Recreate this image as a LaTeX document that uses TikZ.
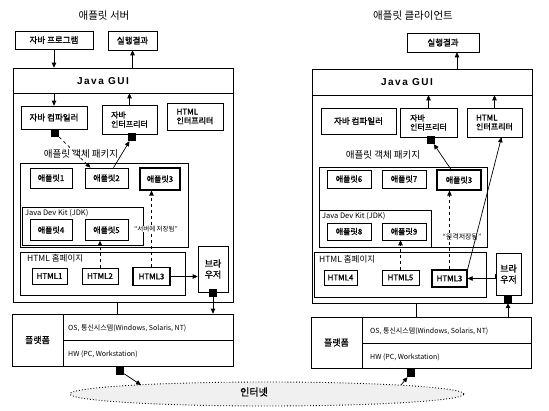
\documentclass[tikz,border=0pt]{standalone}
\usepackage{fontspec}
\setmainfont{Noto Sans CJK KR}[AutoFakeBold=1.2]
\newfontfamily\guifont[LetterSpace=15]{Liberation Sans}
\usetikzlibrary{arrows.meta,shapes.geometric}
\begin{document}
\begin{tikzpicture}[x=1pt,y=-1pt,
  box/.style={draw, line width=0.6pt, inner sep=1pt, align=center, font=\bfseries\fontsize{8.5}{10}\selectfont},
  sbox/.style={box, font=\bfseries\fontsize{8}{9}\selectfont},
  tbox/.style={box, line width=1.2pt, font=\bfseries\fontsize{8}{9}\selectfont},
  frame/.style={draw, line width=0.6pt, inner sep=0pt},
  sq/.style={fill=black, minimum size=8pt, inner sep=0pt},
  arr/.style={-{Triangle[length=5pt,width=4.5pt]}, line width=0.7pt},
  dar/.style={arr, dashed},
  ln/.style={line width=0.6pt},
  lbl/.style={inner sep=0pt},
  title/.style={lbl, font=\fontsize{10.5}{12}\selectfont},
  gui/.style={lbl, font=\guifont\bfseries\fontsize{10}{12}\selectfont},
  small/.style={lbl, font=\fontsize{7.5}{9}\selectfont},
  tiny/.style={lbl, font=\fontsize{6.5}{8}\selectfont}
]
\useasboundingbox (0,0) rectangle (549,411);

% ================= LEFT: applet server =================
\node[title] (title1) at (104,16) {애플릿 서버};
\node[box, minimum width=78pt, minimum height=18pt] (prog) at (54,40) {자바 프로그램};
\node[box, minimum width=49pt, minimum height=19pt] (res1) at (132.5,40.5) {실행결과};

\node[frame, minimum width=220pt, minimum height=234pt] (outer1) at (123,185) {};
\node[frame, minimum width=220pt, minimum height=25pt] (gui1) at (123,80.5) {};
\node[gui] (gui1t) at (103,81) {Java GUI};

\node[box, minimum width=66pt, minimum height=23pt] (comp1) at (54,117.5) {자바 컴파일러};
\node[sbox, minimum width=55pt, minimum height=29pt, align=left] (interp1) at (129.5,119.5) {자바\\인터프리터};
\node[sbox, minimum width=56pt, minimum height=27pt, align=left] (htmli1) at (195,116.5) {HTML\\인터프리터};
\node[sq] (sq1a) at (55,133) {};
\node[sq] (sq1b) at (132,137) {};

\node[lbl, font=\fontsize{9.5}{11}\selectfont] (pkgl1) at (81,154) {애플릿 객체 패키지};
\node[frame, minimum width=168pt, minimum height=84pt] (pkg1) at (104,205) {};
\node[sbox, minimum width=42pt, minimum height=20pt] (ap1) at (51,178) {애플릿1};
\node[sbox, minimum width=43pt, minimum height=20pt] (ap2) at (106.5,178) {애플릿2};
\node[tbox, minimum width=40pt, minimum height=22pt] (ap3) at (160,179) {애플릿3};

\node[frame, minimum width=121pt, minimum height=38pt] (jdk1) at (82.5,226) {};
\node[small, anchor=west] (jdk1t) at (25,213) {Java Dev Kit (JDK)};
\node[sbox, minimum width=42pt, minimum height=21pt] (ap4) at (51,230) {애플릿4};
\node[sbox, minimum width=43pt, minimum height=21pt] (ap5) at (106.5,230) {애플릿5};

\node[frame, minimum width=165pt, minimum height=43pt] (hp1) at (102.5,273.5) {};
\node[lbl, anchor=west, font=\fontsize{8.5}{10}\selectfont] (hp1t) at (27,258) {HTML 홈페이지};
\node[sbox, minimum width=35pt, minimum height=16pt] (h1) at (49.5,276) {HTML1};
\node[sbox, minimum width=36pt, minimum height=16pt] (h2) at (100,276) {HTML2};
\node[tbox, minimum width=37pt, minimum height=18pt] (h3) at (151.5,276.5) {HTML3};

\node[box, minimum width=30pt, minimum height=46pt, font=\bfseries\fontsize{9}{11}\selectfont] (br1) at (213,269) {브라\\우저};
\node[sq] (sq1c) at (213,293) {};

\node[frame, minimum width=51pt, minimum height=52pt, font=\bfseries\fontsize{9}{10}\selectfont] (pl1) at (37.5,340) {플랫폼};
\node[frame, minimum width=170pt, minimum height=26pt] (os1) at (148,327) {};
\node[frame, minimum width=170pt, minimum height=26pt] (hw1) at (148,353) {};
\node[lbl, anchor=west, font=\fontsize{7}{8}\selectfont] (os1t) at (68,328) {OS, 통신시스템(Windows, Solaris, NT)};
\node[lbl, anchor=west, font=\fontsize{7}{8}\selectfont] (hw1t) at (68,354) {HW (PC, Workstation)};
\node[sq] (sq1d) at (120,371) {};

% ================= RIGHT: applet client =================
\node[title] (title2) at (413,16) {애플릿 클라이언트};
\node[box, minimum width=72pt, minimum height=19pt] (res2) at (443,42.5) {실행결과};

\node[frame, minimum width=220pt, minimum height=234pt] (outer2) at (422,186) {};
\node[frame, minimum width=220pt, minimum height=26pt] (gui2) at (422,82) {};
\node[gui] (gui2t) at (407,82) {Java GUI};

\node[box, minimum width=75pt, minimum height=26pt] (comp2) at (358.5,121) {자바 컴파일러};
\node[sbox, minimum width=57pt, minimum height=29pt, align=left] (interp2) at (428.5,122.5) {자바\\인터프리터};
\node[sbox, minimum width=55pt, minimum height=29pt, align=left] (htmli2) at (494.5,122.5) {HTML\\인터프리터};
\node[sq] (sq2b) at (431,140) {};

\node[lbl, font=\fontsize{9.5}{11}\selectfont] (pkgl2) at (383,155) {애플릿 객체 패키지};
\node[frame, minimum width=168pt, minimum height=80pt] (pkg2) at (403,207) {};
\node[sbox, minimum width=44pt, minimum height=18pt] (ap6) at (349,179) {애플릿6};
\node[sbox, minimum width=44pt, minimum height=18pt] (ap7) at (404,179) {애플릿7};
\node[tbox, minimum width=44pt, minimum height=20pt] (ap3r) at (459,180) {애플릿3};

\node[frame, minimum width=112pt, minimum height=37pt] (jdk2) at (375,228.5) {};
\node[small, anchor=west] (jdk2t) at (322,216) {Java Dev Kit (JDK)};
\node[sbox, minimum width=44pt, minimum height=17pt] (ap8) at (349,231.5) {애플릿8};
\node[sbox, minimum width=44pt, minimum height=17pt] (ap9) at (404,231.5) {애플릿9};

\node[frame, minimum width=172pt, minimum height=45pt] (hp2) at (400,274.5) {};
\node[lbl, anchor=west, font=\fontsize{8.5}{10}\selectfont] (hp2t) at (319,259) {HTML 홈페이지};
\node[sbox, minimum width=33pt, minimum height=15pt] (h4) at (340.5,277.5) {HTML4};
\node[sbox, minimum width=37pt, minimum height=15pt] (h5) at (400.5,277.5) {HTML5};
\node[tbox, minimum width=35pt, minimum height=17pt] (h3r) at (449.5,278.5) {HTML3};

\node[box, minimum width=25pt, minimum height=42pt, font=\bfseries\fontsize{9}{11}\selectfont] (br2) at (508.5,274) {브라\\우저};
\node[sq] (sq2c) at (508,299) {};

\node[frame, minimum width=51pt, minimum height=51pt, font=\bfseries\fontsize{9}{10}\selectfont] (pl2) at (336.5,342.5) {플랫폼};
\node[frame, minimum width=169pt, minimum height=26pt] (os2) at (446.5,330) {};
\node[frame, minimum width=169pt, minimum height=25pt] (hw2) at (446.5,355.5) {};
\node[lbl, anchor=west, font=\fontsize{7}{8}\selectfont] (os2t) at (370,331) {OS, 통신시스템(Windows, Solaris, NT)};
\node[lbl, anchor=west, font=\fontsize{7}{8}\selectfont] (hw2t) at (370,357) {HW (PC, Workstation)};
\node[sq] (sq2d) at (411,373) {};

% ================= Internet =================
\node[draw, dotted, ellipse, line width=0.9pt, fill=black!6, minimum width=394pt, minimum height=24pt] (inet) at (267,394) {};
\node[lbl, font=\bfseries\fontsize{10}{12}\selectfont] (inett) at (254,392) {인터넷};
\coordinate (inetA) at (141,385);
\coordinate (inetB) at (401,385);

% ================= connectors: left =================
\draw[arr] (prog) -- (prog |- gui1.north);
\draw[arr] (res1 |- gui1.north) -- (res1);
\draw[arr] (comp1 |- gui1.south) -- (comp1.north);
\draw[arr] (interp1.north) -- (interp1 |- gui1.south);
\draw[dar] (sq1a) -- ([xshift=-16pt]ap2.north);
\draw[arr] ([xshift=7pt]ap2.north) -- (sq1b);
\draw[dar] (h3.north) -- (h3.north |- ap3.south);
\node[tiny, fill=white, inner sep=0.5pt] (lab1) at (156,229) {“서버에 저장됨”};
\draw[dar] (h2.north) -- (h2.north |- ap5.south);
\draw[arr] (h3.east) -- (br1.west |- h3.east);
\draw[arr] (sq1c) -- (sq1c |- os1.north);
\draw[ln] ([xshift=-6pt]outer1.south) -- ([xshift=-6pt]outer1.south |- os1.north);
\draw[arr] (sq1d) -- (inetA);

% ================= connectors: right =================
\draw[arr] ([xshift=14pt]res2.south |- gui2.north) -- ([xshift=14pt]res2.south);
\draw[arr] (interp2.north) -- (interp2 |- gui2.south);
\draw[arr] (htmli2.north) -- (htmli2 |- gui2.south);
\draw[arr] ([xshift=-8pt]ap3r.north) -- (sq2b);
\draw[arr] (h3r.north east) -- ([xshift=7pt]htmli2.south);
\draw[dar] (h3r.north) -- (h3r.north |- ap3r.south);
\node[lbl, font=\fontsize{7}{8}\selectfont] (lab2) at (462,237) {“원격저장됨”};
\draw[dar] (h5.north) -- (h5.north |- ap9.south);
\draw[arr] (br2.west) -- (h3r.east -| br2.west) -- (h3r.east);
\draw[arr] (sq2c |- os2.north) -- (sq2c);
\draw[ln] ([xshift=-6pt]outer2.south) -- ([xshift=-6pt]outer2.south |- os2.north);
\draw[arr] (inetB) -- (sq2d);
\end{tikzpicture}
\end{document}
